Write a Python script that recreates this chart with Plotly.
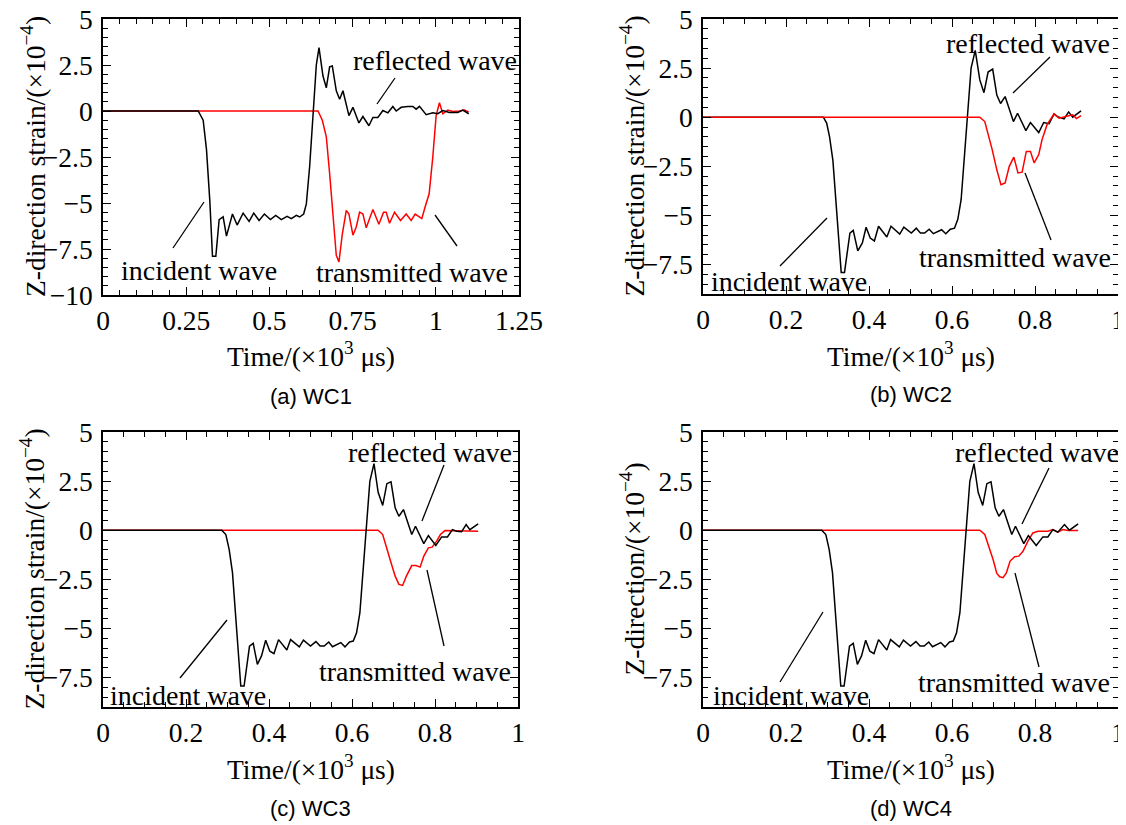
import plotly.graph_objects as go

OFF = 8  # page body margin of the html page, compensated below
W, H = 1126 - OFF, 825 - OFF

# ---------------- data (time in x10^3 us, strain in x10^-4) ----------------
# Panel (a) WC1
a_black_t = [0, 0.286, 0.301, 0.311, 0.321, 0.329, 0.339, 0.349, 0.361, 0.371, 0.389, 0.403, 0.421, 0.439,
             0.453, 0.469, 0.485, 0.503, 0.519, 0.536, 0.553, 0.566, 0.581, 0.591, 0.603, 0.611, 0.621, 0.631,
             0.641, 0.649, 0.661, 0.671, 0.681, 0.689, 0.701, 0.711, 0.721, 0.739, 0.751, 0.769, 0.781, 0.799,
             0.811, 0.826, 0.841, 0.856, 0.871, 0.881, 0.896, 0.916, 0.931, 0.941, 0.951, 0.971, 0.991, 1.006,
             1.021, 1.041, 1.066, 1.081, 1.099]
a_black_v = [0, 0, -0.5, -2.1, -4.9, -7.9, -7.9, -5.9, -5.75, -6.8, -5.6, -6.2, -5.55, -6.0,
             -5.55, -5.95, -5.6, -5.9, -5.67, -5.9, -5.73, -5.85, -5.67, -5.76, -5.6, -5.05, -3.0, 0.0,
             2.5, 3.45, 1.9, 1.26, 2.4, 2.45, 1.1, 0.64, 1.1, -0.25, 0.2, -0.65, -0.3, -0.8,
             -0.35, -0.35, 0.03, -0.1, 0.24, 0.0, 0.2, 0.25, 0.25, 0.1, 0.25, -0.2, -0.1, -0.15,
             0.02, -0.08, -0.08, 0.05, -0.15]
a_red_t = [0, 0.646, 0.659, 0.671, 0.681, 0.691, 0.701, 0.709, 0.719, 0.731, 0.739, 0.751, 0.761, 0.771,
           0.781, 0.791, 0.811, 0.829, 0.843, 0.851, 0.861, 0.876, 0.894, 0.911, 0.926, 0.938, 0.958, 0.968,
           0.98, 0.991, 1.001, 1.011, 1.021, 1.036, 1.051, 1.071, 1.086, 1.099]
a_red_v = [0, 0, -0.5, -1.4, -3.4, -5.6, -7.85, -8.2, -6.7, -5.4, -5.6, -6.75, -6.3, -5.5,
           -5.6, -6.35, -5.35, -6.15, -5.5, -5.5, -6.1, -5.5, -5.95, -5.6, -5.95, -5.6, -5.85, -5.2,
           -4.5, -2.5, -0.25, 0.45, -0.15, 0.05, -0.03, 0.0, 0.05, -0.05]

# Panel (b) WC2
b_black_t = [0, 0.29, 0.298, 0.305, 0.313, 0.323, 0.333, 0.341, 0.347, 0.354, 0.362, 0.373, 0.384, 0.393,
             0.403, 0.413, 0.423, 0.443, 0.453, 0.474, 0.484, 0.502, 0.514, 0.524, 0.534, 0.545, 0.555, 0.575,
             0.585, 0.596, 0.606, 0.614, 0.622, 0.63, 0.638, 0.646, 0.656, 0.667, 0.677, 0.687, 0.698, 0.708,
             0.717, 0.728, 0.748, 0.758, 0.778, 0.789, 0.809, 0.821, 0.834, 0.846, 0.854, 0.87, 0.881, 0.891,
             0.911]
b_black_v = [0, 0, -0.3, -1.0, -2.2, -5.05, -7.9, -7.9, -6.9, -5.9, -5.76, -6.8, -6.4, -5.6,
             -6.15, -6.3, -5.55, -6.1, -5.55, -5.95, -5.6, -5.9, -5.65, -5.9, -5.9, -5.7, -5.93, -5.73,
             -5.93, -5.7, -5.65, -5.2, -4.2, -2.0, 0.37, 2.5, 3.4, 1.9, 1.25, 2.3, 2.45, 1.13,
             0.7, 1.05, -0.22, 0.2, -0.68, -0.27, -0.78, -0.27, -0.33, 0.17, 0.03, -0.08, 0.27, 0.0,
             0.32]
b_red_t = [0, 0.667, 0.679, 0.687, 0.697, 0.708, 0.718, 0.728, 0.738, 0.749, 0.759, 0.769, 0.779, 0.789,
           0.798, 0.809, 0.817, 0.829, 0.846, 0.858, 0.874, 0.891, 0.9, 0.911]
b_red_v = [0, 0, -0.22, -0.81, -1.66, -2.68, -3.44, -3.35, -2.5, -2.03, -2.84, -2.8, -1.74, -1.74,
           -2.33, -1.9, -1.14, -0.38, 0.17, -0.05, 0.03, 0.12, -0.07, 0.08]

# Panel (c) WC3
c_black_t = [0, 0.286, 0.296, 0.304, 0.312, 0.322, 0.332, 0.34, 0.346, 0.353, 0.362, 0.372, 0.382, 0.392,
             0.402, 0.412, 0.423, 0.443, 0.452, 0.473, 0.483, 0.5, 0.513, 0.523, 0.533, 0.544, 0.553, 0.573,
             0.583, 0.594, 0.603, 0.611, 0.619, 0.627, 0.635, 0.643, 0.653, 0.663, 0.674, 0.684, 0.694, 0.704,
             0.713, 0.724, 0.744, 0.753, 0.773, 0.784, 0.802, 0.816, 0.83, 0.842, 0.852, 0.864, 0.875, 0.884,
             0.904]
c_black_v = [0, 0, -0.22, -0.98, -2.16, -5.2, -7.93, -7.93, -6.9, -5.9, -5.76, -6.83, -6.4, -5.6,
             -6.16, -6.28, -5.57, -6.1, -5.57, -5.94, -5.6, -5.9, -5.67, -5.9, -5.9, -5.69, -5.93, -5.72,
             -5.94, -5.69, -5.64, -5.22, -4.2, -2.0, 0.37, 2.49, 3.39, 1.93, 1.26, 2.37, 2.46, 1.14,
             0.71, 1.05, -0.22, 0.2, -0.68, -0.27, -0.78, -0.34, -0.34, 0.03, -0.05, -0.08, 0.29, 0.03,
             0.32]
c_red_t = [0, 0.663, 0.674, 0.683, 0.693, 0.704, 0.713, 0.722, 0.731, 0.744, 0.754, 0.764, 0.773, 0.784,
           0.793, 0.804, 0.813, 0.824, 0.844, 0.86, 0.904]
c_red_v = [0, 0, -0.22, -0.81, -1.58, -2.34, -2.76, -2.81, -2.34, -1.8, -1.8, -1.88, -1.32, -0.9,
           -0.86, -0.56, -0.22, -0.02, -0.02, -0.05, -0.05]

# Panel (d) WC4
d_black_t = [0, 0.286, 0.296, 0.304, 0.312, 0.322, 0.332, 0.34, 0.346, 0.353, 0.362, 0.372, 0.382, 0.392,
             0.402, 0.412, 0.423, 0.443, 0.452, 0.473, 0.483, 0.5, 0.513, 0.523, 0.533, 0.544, 0.553, 0.573,
             0.583, 0.594, 0.603, 0.611, 0.619, 0.627, 0.635, 0.643, 0.653, 0.663, 0.674, 0.684, 0.694, 0.704,
             0.713, 0.724, 0.744, 0.753, 0.773, 0.784, 0.803, 0.819, 0.831, 0.843, 0.855, 0.871, 0.883, 0.904]
d_black_v = [0, 0, -0.22, -0.98, -2.16, -5.2, -7.93, -7.93, -6.9, -5.9, -5.76, -6.83, -6.4, -5.6,
             -6.16, -6.28, -5.57, -6.1, -5.57, -5.94, -5.6, -5.9, -5.67, -5.9, -5.9, -5.69, -5.93, -5.72,
             -5.94, -5.69, -5.64, -5.22, -4.2, -2.0, 0.37, 2.49, 3.39, 1.93, 1.26, 2.37, 2.46, 1.14,
             0.71, 1.05, -0.22, 0.2, -0.68, -0.27, -0.78, -0.34, -0.34, 0.03, -0.1, 0.29, 0.0, 0.32]
d_red_t = [0, 0.667, 0.679, 0.689, 0.699, 0.708, 0.715, 0.723, 0.731, 0.74, 0.751, 0.761, 0.771, 0.783,
           0.795, 0.807, 0.831, 0.843, 0.855, 0.867, 0.88, 0.904]
d_red_v = [0, 0, -0.22, -0.81, -1.49, -2.2, -2.37, -2.42, -2.17, -1.57, -1.35, -1.32, -1.07, -0.56,
           -0.14, -0.05, -0.05, 0.03, -0.1, 0.03, -0.02, -0.02]

captions = ["(a) WC1", "(b) WC2", "(c) WC3", "(d) WC4"]
ytitles = ["Z-direction strain/(×10<sup>−4</sup>)", "Z-direction strain/(×10<sup>−4</sup>)",
           "Z-direction strain/(×10<sup>−4</sup>)", "Z-direction/(×10<sup>−4</sup>)"]
xtitle = "Time/(×10<sup>3</sup> μs)"

SERIF = "Times New Roman, Liberation Serif, serif"
SANS = "Arial, Liberation Sans, sans-serif"
FS = 27.5

# ---------------- layout geometry (pixels in the screenshot) ----------------
panels = [
    dict(box=(103, 519, 19, 295), xr=(0, 1.25), xd=0.25, yr=(-10, 5), red_first=True,
         black=(a_black_t, a_black_v), red=(a_red_t, a_red_v)),
    dict(box=(703, 1118, 19, 294), xr=(0, 1), xd=0.2, yr=(-9, 5), red_first=False,
         black=(b_black_t, b_black_v), red=(b_red_t, b_red_v)),
    dict(box=(103, 518, 432, 707), xr=(0, 1), xd=0.2, yr=(-9, 5), red_first=True,
         black=(c_black_t, c_black_v), red=(c_red_t, c_red_v)),
    dict(box=(703, 1118, 432, 707), xr=(0, 1), xd=0.2, yr=(-9, 5), red_first=True,
         black=(d_black_t, d_black_v), red=(d_red_t, d_red_v)),
]


def px(x):
    return (x - OFF) / W


def py(y):
    return 1 - (y - OFF) / H


fig = go.Figure()
layout = {}
annotations = []
shapes = []

for i, p in enumerate(panels):
    n = "" if i == 0 else str(i + 1)
    xa, ya = "x" + n, "y" + n
    x0, x1, y0, y1 = p["box"]
    black_tr = go.Scatter(x=p["black"][0], y=p["black"][1], mode="lines",
                          line=dict(color="black", width=1.5), xaxis=xa, yaxis=ya,
                          showlegend=False, hoverinfo="skip")
    red_tr = go.Scatter(x=p["red"][0], y=p["red"][1], mode="lines",
                        line=dict(color="#ff0000", width=1.5), xaxis=xa, yaxis=ya,
                        showlegend=False, hoverinfo="skip")
    for tr in ((red_tr, black_tr) if p["red_first"] else (black_tr, red_tr)):
        fig.add_trace(tr)
    common = dict(showline=True, linecolor="black", linewidth=1.5, mirror="ticks",
                  ticks="inside", ticklen=8, tickwidth=1.2, tickcolor="black",
                  showgrid=False, zeroline=False, fixedrange=True, automargin=False,
                  ticklabeloverflow="allow",
                  tickfont=dict(family=SERIF, size=FS, color="black"))
    layout["xaxis" + n] = dict(common, domain=[px(x0), px(x1)], range=list(p["xr"]),
                               tick0=0, dtick=p["xd"], anchor=ya,
                               minor=dict(dtick=0.05, ticklen=5, tickwidth=1, tickcolor="black",
                                          ticks="inside", showgrid=False))
    layout["yaxis" + n] = dict(common, domain=[py(y1), py(y0)], range=list(p["yr"]),
                               tick0=0, dtick=2.5, anchor=xa, ticklabelstandoff=3,
                               minor=dict(dtick=0.5, ticklen=5, tickwidth=1, tickcolor="black",
                                          ticks="inside", showgrid=False))
    cx = (x0 + x1) / 2
    # x title
    annotations.append(dict(x=px(cx), y=py(y1 + 60), xref="paper", yref="paper", text=xtitle,
                            showarrow=False, xanchor="center", yanchor="middle",
                            font=dict(family=SERIF, size=FS, color="black")))
    # caption
    annotations.append(dict(x=px(cx), y=py(y1 + 101), xref="paper", yref="paper", text=captions[i],
                            showarrow=False, xanchor="center", yanchor="middle",
                            font=dict(family=SANS, size=22, color="black")))
    # y title
    annotations.append(dict(x=px(x0 - 70), y=py((y0 + y1) / 2), xref="paper", yref="paper",
                            text=ytitles[i], textangle=-90, showarrow=False,
                            xanchor="center", yanchor="middle",
                            font=dict(family=SERIF, size=FS, color="black")))

# wave labels: (text, center x, center y) and pointer lines, in pixels
labels = [
    ("reflected wave", 435, 60), ("incident wave", 199, 270), ("transmitted wave", 412, 272),
    ("reflected wave", 1028, 43), ("incident wave", 789, 282), ("transmitted wave", 1015, 257),
    ("reflected wave", 430, 452), ("incident wave", 188, 695), ("transmitted wave", 415, 671),
    ("reflected wave", 1037, 452), ("incident wave", 791, 695), ("transmitted wave", 1014, 682),
]
pointers = [
    (395, 78, 377, 104), (204, 202, 173, 248), (435, 215, 457, 246),
    (1050, 57, 1013, 93), (827, 218, 780, 266), (1025, 173, 1051, 240),
    (444, 465, 422, 521), (227, 620, 180, 678), (427, 570, 444, 646),
    (1049, 468, 1022, 524), (823, 612, 780, 682), (1015, 573, 1039, 667),
]
for t, x, y in labels:
    annotations.append(dict(x=px(x), y=py(y), xref="paper", yref="paper", text=t, showarrow=False,
                            xanchor="center", yanchor="middle",
                            font=dict(family=SERIF, size=28, color="black")))
for xa_, ya_, xb_, yb_ in pointers:
    shapes.append(dict(type="line", xref="paper", yref="paper", x0=px(xa_), y0=py(ya_),
                       x1=px(xb_), y1=py(yb_), line=dict(color="black", width=1.3)))

fig.update_layout(width=W, height=H, margin=dict(l=0, r=0, t=0, b=0, autoexpand=False),
                  paper_bgcolor="white", plot_bgcolor="white",
                  annotations=annotations, shapes=shapes, **layout)

fig.write_html("out.html")
